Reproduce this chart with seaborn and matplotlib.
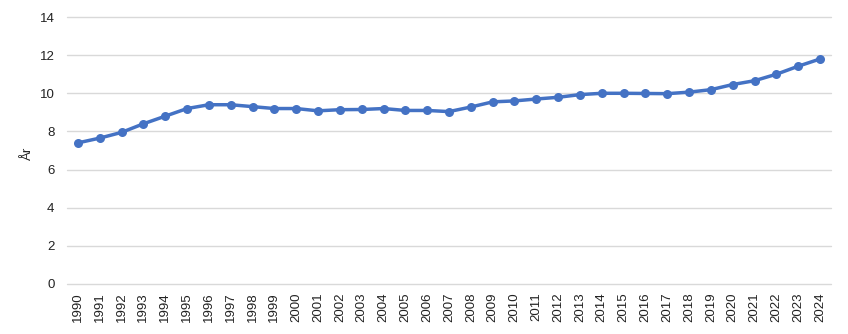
import matplotlib
matplotlib.use("Agg")
import matplotlib.pyplot as plt
import seaborn as sns
import pandas as pd

years = list(range(1990, 2025))
values = [7.4, 7.65, 7.95, 8.4, 8.8, 9.2, 9.4, 9.4, 9.3, 9.2,
          9.2, 9.08, 9.14, 9.15, 9.2, 9.1, 9.1, 9.04, 9.28, 9.55,
          9.6, 9.7, 9.79, 9.93, 10.0, 10.0, 9.99, 9.98, 10.06, 10.19,
          10.46, 10.66, 11.0, 11.42, 11.8]
y_ticks = [0, 2, 4, 6, 8, 10, 12, 14]
y_label = "År"

sns.set_theme(style="white")
plt.rcParams['font.family'] = ['Liberation Sans', 'DejaVu Sans']

df = pd.DataFrame({"year": years, "value": values})

fig = plt.figure(figsize=(8.48, 3.34), dpi=100)
ax = fig.add_axes([67/848, 1 - 284/334, (831 - 67)/848, (284 - 17)/334])

sns.lineplot(data=df, x="year", y="value", ax=ax, color="#4472C4",
             linewidth=2.5, marker="o", markersize=6.5,
             markeredgewidth=0, zorder=3)

fs = 9.5
ax.set_xlim(1989.5, 2024.5)
ax.set_ylim(0, 14)
ax.set_yticks(y_ticks)
ax.set_xticks(years)
ax.set_xticklabels([str(y) for y in years], rotation=90, fontsize=fs, color="#222222")
ax.tick_params(axis="y", labelsize=fs, labelcolor="#222222", length=0, pad=9)
ax.tick_params(axis="x", length=0, pad=6)
ax.grid(axis="y", color="#d9d9d9", linewidth=1)
ax.grid(axis="x", visible=False)
for gl in ax.get_ygridlines():
    gl.set_clip_on(False)
for s in ax.spines.values():
    s.set_visible(False)
ax.set_xlabel("")
ax.set_ylabel(y_label, fontsize=fs, color="#222222")
ax.yaxis.set_label_coords(-0.043, 0.49)

fig.savefig("out.png", dpi=100)
